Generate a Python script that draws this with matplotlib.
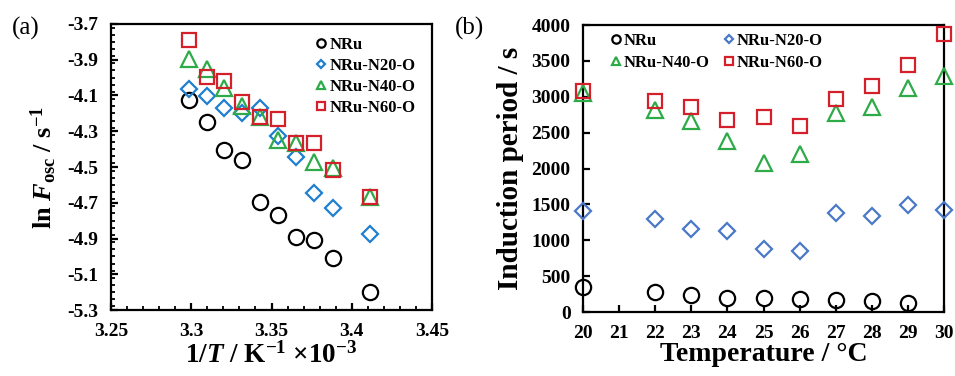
import matplotlib
matplotlib.use("Agg")
import matplotlib.pyplot as plt
import numpy as np
from matplotlib.ticker import MultipleLocator

plt.rcParams['font.family'] = ['Liberation Serif', 'DejaVu Serif']
plt.rcParams['font.weight'] = 'bold'
plt.rcParams['mathtext.fontset'] = 'custom'
plt.rcParams['mathtext.rm'] = 'Liberation Serif:bold'
plt.rcParams['mathtext.it'] = 'Liberation Serif:italic:bold'
plt.rcParams['mathtext.bf'] = 'Liberation Serif:bold'

# ---- data ----
temps = [20, 22, 23, 24, 25, 26, 27, 28, 29, 30]          # °C
series_names = ['NRu', 'NRu-N20-O', 'NRu-N40-O', 'NRu-N60-O']

# (a) ln F_osc vs 1/T
lnF_NRu = [-5.197, -5.007, -4.908, -4.893, -4.769, -4.698, -4.461, -4.405, -4.246, -4.125]
lnF_N20 = [-4.875, -4.727, -4.647, -4.446, -4.327, -4.172, -4.200, -4.172, -4.101, -4.065]
lnF_N40 = [-4.666, -4.507, -4.474, -4.364, -4.349, -4.218, -4.159, -4.060, -3.954, -3.898]
lnF_N60 = [-4.666, -4.517, -4.364, -4.364, -4.233, -4.222, -4.134, -4.017, -3.998, -3.790]

# (b) induction period vs temperature
ind_NRu = [349, 279, 242, 195, 195, 177, 163, 153, 126, np.nan]
ind_N20 = [1405, 1293, 1158, 1126, 884, 851, 1381, 1335, 1488, 1419]
ind_N40 = [3047, 2814, 2665, 2381, 2070, 2209, 2767, 2851, 3116, 3288]
ind_N60 = [3084, 2944, 2860, 2674, 2721, 2591, 2963, 3149, 3442, 3870]

invT = [1000.0 / (t + 273.15) for t in temps]

colors_a = ['black', '#1f7fd0', '#2eaa48', '#d4202a']
colors_b = ['black', '#4a78c8', '#2eaa48', '#d4202a']
markers = ['o', 'D', '^', 's']
msizes = [11, 8, 11, 10]

fig = plt.figure(figsize=(9.55, 3.76), dpi=100)
axA = fig.add_axes([0.1162, 0.1755, 0.3362, 0.7607])
axB = fig.add_axes([0.6105, 0.1702, 0.3780, 0.7633])

dataA = [lnF_NRu, lnF_N20, lnF_N40, lnF_N60]
for y, c, m, s, n in zip(dataA, colors_a, markers, msizes, series_names):
    axA.plot(invT, y, linestyle='none', marker=m, ms=s, mfc='none', mec=c,
             mew=1.6, label=n, clip_on=False)

dataB = [ind_NRu, ind_N20, ind_N40, ind_N60]
handlesB = []
for y, c, m, s, n in zip(dataB, colors_b, markers, msizes, series_names):
    h, = axB.plot(temps, y, linestyle='none', marker=m, ms=s, mfc='none', mec=c,
                  mew=1.6, label=n, clip_on=False, zorder=5)
    handlesB.append(h)

# axes A formatting
axA.set_xlim(3.25, 3.45)
axA.set_ylim(-5.3, -3.7)
axA.xaxis.set_minor_locator(MultipleLocator(0.01))
axA.yaxis.set_minor_locator(MultipleLocator(0.04))
axA.set_xticks([3.25, 3.3, 3.35, 3.4, 3.45])
axA.set_xticklabels(['3.25', '3.3', '3.35', '3.4', '3.45'])
axA.set_yticks([-3.7, -3.9, -4.1, -4.3, -4.5, -4.7, -4.9, -5.1, -5.3])
axA.set_yticklabels(['-3.7', '-3.9', '-4.1', '-4.3', '-4.5', '-4.7', '-4.9', '-5.1', '-5.3'])
axA.set_xlabel(r'1/$T$ / K$^{-1}$ $\times$10$^{-3}$', fontsize=19.5, fontweight='bold', labelpad=2)
axA.set_ylabel(r'ln $F_{\mathrm{osc}}$ / s$^{-1}$', fontsize=19, fontweight='bold', labelpad=6)

# axes B formatting
axB.set_xlim(20, 30)
axB.set_ylim(0, 4000)
axB.xaxis.set_major_locator(MultipleLocator(1))
axB.yaxis.set_major_locator(MultipleLocator(500))
axB.set_xlabel('Temperature / °C', fontsize=20, fontweight='bold', labelpad=0)
axB.set_ylabel('Induction period / s', fontsize=21, fontweight='bold', labelpad=5)

for ax in (axA, axB):
    for sp in ax.spines.values():
        sp.set_linewidth(1.6)
    ax.tick_params(which='major', direction='in', length=5, width=1.6,
                   labelsize=14, pad=9)
    ax.tick_params(which='minor', direction='in', length=3, width=1.3)
    for lab in ax.get_xticklabels() + ax.get_yticklabels():
        lab.set_fontweight('bold')

axA.legend(loc='upper right', bbox_to_anchor=(0.985, 0.995), frameon=False,
           fontsize=12, markerscale=0.55, handlelength=0.6, handletextpad=0.2,
           labelspacing=0.3, borderaxespad=0.3)
orderB = [0, 2, 1, 3]
axB.legend([handlesB[i] for i in orderB], [series_names[i] for i in orderB],
           loc='upper left', bbox_to_anchor=(0.035, 1.025), ncol=2, frameon=False,
           fontsize=12, markerscale=0.55, handlelength=0.6, handletextpad=0.15,
           labelspacing=0.35, columnspacing=0.9)

fig.text(0.012, 0.925, '(a)', fontsize=18, fontweight='normal', va='center')
fig.text(0.476, 0.925, '(b)', fontsize=18, fontweight='normal', va='center')

fig.savefig('out.png', dpi=100)
